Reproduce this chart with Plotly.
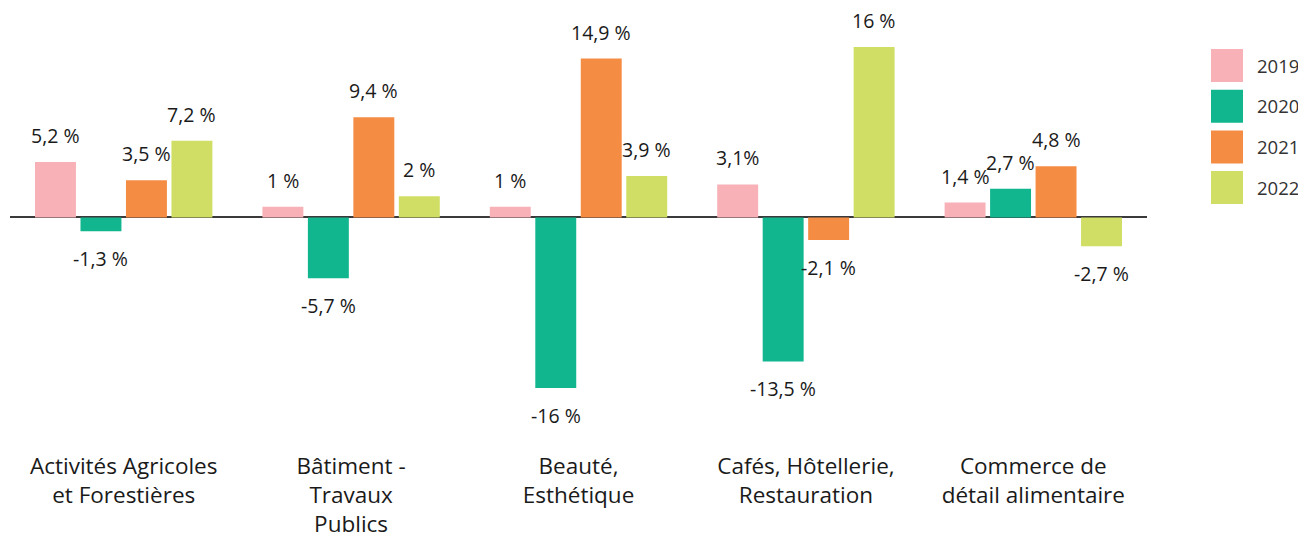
import plotly.graph_objects as go

# Data
categories = [
    "Activités Agricoles<br>et Forestières",
    "Bâtiment -<br>Travaux<br>Publics",
    "Beauté,<br>Esthétique",
    "Cafés, Hôtellerie,<br>Restauration",
    "Commerce de<br>détail alimentaire",
]
years = ["2019", "2020", "2021", "2022"]
v2019 = [5.2, 1, 1, 3.1, 1.4]
v2020 = [-1.3, -5.7, -16, -13.5, 2.7]
v2021 = [3.5, 9.4, 14.9, -2.1, 4.8]
v2022 = [7.2, 2, 3.9, 16, -2.7]
lab2019 = ["5,2 %", "1 %", "1 %", "3,1%", "1,4 %"]
lab2020 = ["-1,3 %", "-5,7 %", "-16 %", "-13,5 %", "2,7 %"]
lab2021 = ["3,5 %", "9,4 %", "14,9 %", "-2,1 %", "4,8 %"]
lab2022 = ["7,2 %", "2 %", "3,9 %", "16 %", "-2,7 %"]

values = [v2019, v2020, v2021, v2022]
labels = [lab2019, lab2020, lab2021, lab2022]
colors = ["#F7B1B7", "#11B68F", "#F58C44", "#D0DE65"]

FONT = "Open Sans"
TEXT_COLOR = "#1a1a1a"
BARGAP = 0.2
BARGROUPGAP = 0.1

fig = go.Figure()
for year, vals, col in zip(years, values, colors):
    fig.add_bar(name=year, x=categories, y=vals, marker_color=col,
                marker_line_width=0, showlegend=False)

# Value labels, set a little away from the bar ends
n = len(years)
slot = (1 - BARGAP) / n
annotations = []
for i, (vals, labs) in enumerate(zip(values, labels)):
    for j, (v, lab) in enumerate(zip(vals, labs)):
        pos = v >= 0
        annotations.append(dict(
            x=j + (i - (n - 1) / 2) * slot, y=v, xref="x", yref="y",
            text=lab, showarrow=False, borderpad=0,
            yanchor="bottom" if pos else "top",
            yshift=12 if pos else -13,
            font=dict(family=FONT, size=19.5, color=TEXT_COLOR),
        ))

# Legend with large square swatches
shapes = []
for k, (year, col) in enumerate(zip(years, colors)):
    shapes.append(dict(
        type="rect", xref="paper", yref="paper",
        xsizemode="pixel", ysizemode="pixel", xanchor=1, yanchor=1,
        x0=64, x1=96, y0=-39 - k * 40.7, y1=-72 - k * 40.7,
        fillcolor=col, line_width=0,
    ))
    annotations.append(dict(
        x=1, y=1, xref="paper", yref="paper", xanchor="left", yanchor="middle",
        xshift=109, yshift=-55 - k * 40.7, text=year, showarrow=False,
        borderpad=0, font=dict(family=FONT, size=18.5, color="#333333"),
    ))

fig.update_layout(
    width=1298, height=525,
    barmode="group", bargap=BARGAP, bargroupgap=BARGROUPGAP,
    plot_bgcolor="white", paper_bgcolor="white",
    margin=dict(l=2, r=159, t=2, b=103),
    font=dict(family=FONT, color=TEXT_COLOR),
    annotations=annotations, shapes=shapes,
    xaxis=dict(showline=False, showgrid=False, ticks="", automargin=False,
               tickfont=dict(family=FONT, size=22.5, color=TEXT_COLOR),
               ticklabelstandoff=20),
    yaxis=dict(range=[-19.93, 19.46], showgrid=False, showticklabels=False,
               automargin=False,
               zeroline=True, zerolinecolor="#3a3a3a", zerolinewidth=2),
)

fig.write_html("out.html")
